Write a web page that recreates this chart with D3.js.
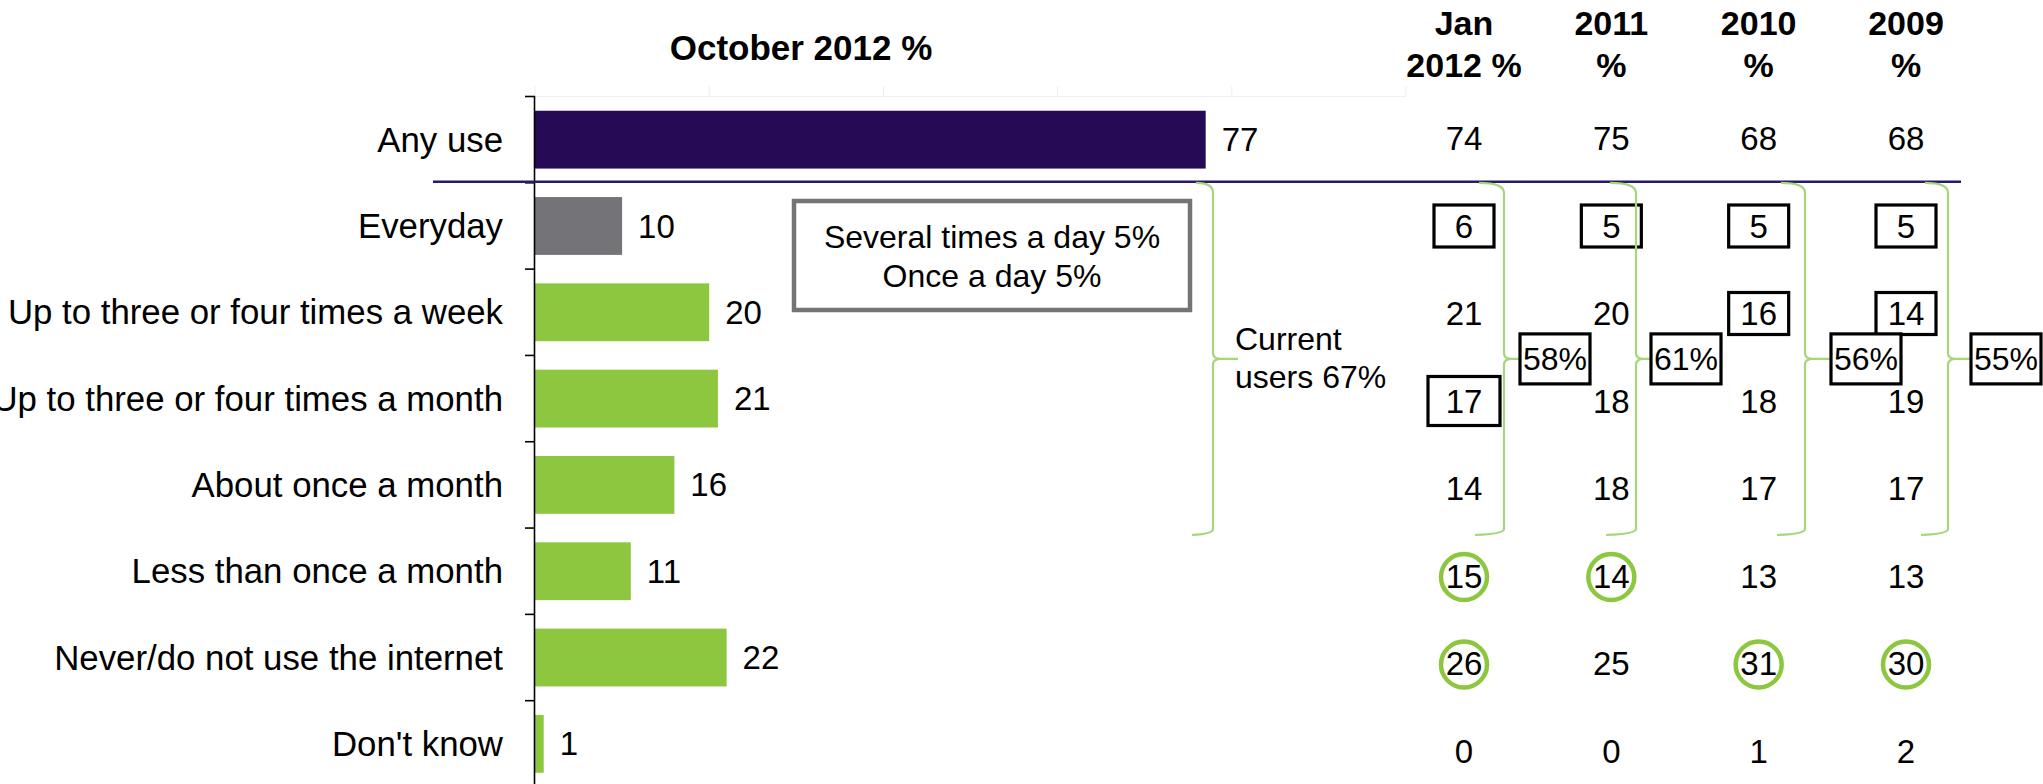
<!DOCTYPE html>
<html>
<head>
<meta charset="utf-8">
<script src="https://cdn.jsdelivr.net/npm/d3@7"></script>
<style>
  html, body { margin: 0; padding: 0; background: #ffffff; }
  svg { display: block; font-family: "Liberation Sans", Arial, sans-serif; }
</style>
</head>
<body>
<svg id="chart" width="2043" height="784"></svg>
<script>
// ---- data ----
const categories = [
  "Any use",
  "Everyday",
  "Up to three or four times a week",
  "Up to three or four times a month",
  "About once a month",
  "Less than once a month",
  "Never/do not use the internet",
  "Don't know"
];
const october2012 = [77, 10, 20, 21, 16, 11, 22, 1];

const jan2012 = [74, 6, 21, 17, 14, 15, 26, 0];
const year2011 = [75, 5, 20, 18, 18, 14, 25, 0];
const year2010 = [68, 5, 16, 18, 17, 13, 31, 1];
const year2009 = [68, 5, 14, 19, 17, 13, 30, 2];
const earlierWaves = [jan2012, year2011, year2010, year2009];
const waveHeaders = [["Jan", "2012 %"], ["2011", "%"], ["2010", "%"], ["2009", "%"]];

const chartTitle = "October 2012 %";
const dailyBreakdown = ["Several times a day 5%", "Once a day 5%"];
const currentUsersOctober = 67;
const currentUsersWaves = [58, 61, 56, 55];

// highlighted cells: [wave index, category]
const boxedCells = [
  [0, "Everyday"], [0, "Up to three or four times a month"],
  [1, "Everyday"],
  [2, "Everyday"], [2, "Up to three or four times a week"],
  [3, "Everyday"], [3, "Up to three or four times a week"]
];
const circledCells = [
  [0, "Less than once a month"], [0, "Never/do not use the internet"],
  [1, "Less than once a month"],
  [2, "Never/do not use the internet"],
  [3, "Never/do not use the internet"]
];

// ---- layout / style ----
const PURPLE = "#260a56";
const GREY = "#737378";
const GREEN = "#8dc63f";
const BRACE_GREEN = "#a6d67a";
const LABEL_FONT = 34.8;
const VALUE_FONT = 33;

const svg = d3.select("#chart");

const x = d3.scaleLinear().domain([0, 100]).range([535, 1406]);
const y = d3.scaleBand().domain(categories).range([96.5, 787])
  .paddingInner(0.33).paddingOuter(0.165);
const step = y.step();
const rowTop = c => y(c) - step * 0.165;

// table of earlier waves
const col = d3.scalePoint().domain(d3.range(waveHeaders.length)).range([1464, 1906]);
const rowT = d3.scalePoint().domain(categories).range([138.5, 751]);

// faint gridlines at the top of the plot area
const grid = svg.append("g");
grid.selectAll("line.v").data(x.ticks(5)).join("line")
  .attr("x1", d => x(d)).attr("x2", d => x(d))
  .attr("y1", 86).attr("y2", 96.5)
  .attr("stroke", "#eeeeee").attr("stroke-width", 1);
grid.append("line")
  .attr("x1", x(0)).attr("x2", x(100)).attr("y1", 96.5).attr("y2", 96.5)
  .attr("stroke", "#f0f0f0").attr("stroke-width", 1);

// title
svg.append("text")
  .attr("x", 801).attr("y", 60)
  .attr("text-anchor", "middle")
  .attr("font-size", 35).attr("font-weight", "bold")
  .text(chartTitle);

// bars
const barColor = i => i === 0 ? PURPLE : (i === 1 ? GREY : GREEN);
svg.append("g").selectAll("rect").data(categories).join("rect")
  .attr("x", x(0))
  .attr("y", d => y(d))
  .attr("width", (d, i) => x(october2012[i]) - x(0))
  .attr("height", y.bandwidth())
  .attr("fill", (d, i) => barColor(i));

// bar value labels
svg.append("g").selectAll("text").data(categories).join("text")
  .attr("x", (d, i) => x(october2012[i]) + 16)
  .attr("y", d => y(d) + y.bandwidth() / 2)
  .attr("dy", "0.35em")
  .attr("font-size", VALUE_FONT)
  .text((d, i) => october2012[i]);

// category labels
svg.append("g").selectAll("text").data(categories).join("text")
  .attr("x", 503)
  .attr("y", d => y(d) + y.bandwidth() / 2)
  .attr("dy", "0.35em")
  .attr("text-anchor", "end")
  .attr("font-size", LABEL_FONT)
  .text(d => d);

// category axis: vertical line and ticks between bands
const axis = svg.append("g");
axis.append("line")
  .attr("x1", x(0) - 0.5).attr("x2", x(0) - 0.5)
  .attr("y1", 96).attr("y2", 784)
  .attr("stroke", "#000").attr("stroke-width", 1.6);
axis.selectAll("line.tick").data(categories).join("line")
  .attr("class", "tick")
  .attr("x1", x(0) - 10).attr("x2", x(0))
  .attr("y1", d => rowTop(d)).attr("y2", d => rowTop(d))
  .attr("stroke", "#000").attr("stroke-width", 1.6);

// divider under "Any use"
svg.append("line")
  .attr("x1", 433).attr("x2", 1961)
  .attr("y1", rowTop(categories[1]) - 1).attr("y2", rowTop(categories[1]) - 1)
  .attr("stroke", "#2b1868").attr("stroke-width", 2.5);

// callout with the daily breakdown
const callout = svg.append("g");
callout.append("rect")
  .attr("x", 794).attr("y", 201).attr("width", 396).attr("height", 109)
  .attr("fill", "#fff").attr("stroke", GREY).attr("stroke-width", 4.5);
callout.selectAll("text").data(dailyBreakdown).join("text")
  .attr("x", 992).attr("y", (d, i) => 248 + i * 39)
  .attr("text-anchor", "middle")
  .attr("font-size", 32)
  .text(d => d);

// curly brace opening to the left with its point to the right
function brace(xStart, xVert, xTip, yTop, yBot) {
  const yMid = (yTop + yBot) / 2;
  const p = d3.path();
  p.moveTo(xStart, yTop);
  p.quadraticCurveTo(xVert, yTop, xVert, yTop + 10);
  p.lineTo(xVert, yMid - 6);
  p.quadraticCurveTo(xVert, yMid, xVert + 8, yMid);
  p.lineTo(xTip, yMid);
  p.moveTo(xVert + 8, yMid);
  p.quadraticCurveTo(xVert, yMid, xVert, yMid + 6);
  p.lineTo(xVert, yBot - 6);
  p.quadraticCurveTo(xVert, yBot - 1, xStart - 4, yBot);
  return p.toString();
}
const braceTop = rowTop(categories[1]);
const braceBottom = 535;
const braceMid = (braceTop + braceBottom) / 2;

svg.append("path")
  .attr("d", brace(1196, 1213, 1238, braceTop, braceBottom))
  .attr("fill", "none").attr("stroke", BRACE_GREEN).attr("stroke-width", 2.2);
svg.append("g").selectAll("text").data(["Current", "users " + currentUsersOctober + "%"]).join("text")
  .attr("x", 1235).attr("y", (d, i) => 350 + i * 38)
  .attr("font-size", 32)
  .text(d => d);

// wave headers
const headers = svg.append("g");
waveHeaders.forEach((lines, i) => {
  headers.append("text")
    .attr("x", col(i)).attr("text-anchor", "middle")
    .attr("font-size", 34).attr("font-weight", "bold")
    .selectAll("tspan").data(lines).join("tspan")
    .attr("x", col(i)).attr("y", (d, j) => 35 + j * 42)
    .text(d => d);
});

// boxes behind highlighted numbers
const boxSize = (w, c) => (w === 0 && c === "Up to three or four times a month") ? [72, 49] : [60, 42];
svg.append("g").selectAll("rect").data(boxedCells).join("rect")
  .attr("x", d => col(d[0]) - boxSize(d[0], d[1])[0] / 2)
  .attr("y", d => rowT(d[1]) - boxSize(d[0], d[1])[1] / 2)
  .attr("width", d => boxSize(d[0], d[1])[0])
  .attr("height", d => boxSize(d[0], d[1])[1])
  .attr("fill", "#fff").attr("stroke", "#000").attr("stroke-width", 3.2);

// braces per wave and their totals
const waveBraces = [[1479, 1504, 1520], [1610, 1636, 1651], [1781, 1805, 1831], [1925, 1948, 1971]];
const braceG = svg.append("g");
waveBraces.forEach((b, i) => {
  braceG.append("path")
    .attr("d", brace(b[0], b[1], b[2], braceTop, braceBottom))
    .attr("fill", "none").attr("stroke", BRACE_GREEN).attr("stroke-width", 2.2);
});

// numbers of the earlier waves
const table = svg.append("g");
earlierWaves.forEach((vals, i) => {
  table.append("g").selectAll("text").data(categories).join("text")
    .attr("x", col(i))
    .attr("y", d => rowT(d))
    .attr("dy", "0.35em")
    .attr("text-anchor", "middle")
    .attr("font-size", VALUE_FONT)
    .text((d, j) => vals[j]);
});

// total boxes at the brace points
const totals = svg.append("g");
currentUsersWaves.forEach((v, i) => {
  const bx = waveBraces[i][2];
  totals.append("rect")
    .attr("x", bx).attr("y", braceMid - 25).attr("width", 70).attr("height", 50)
    .attr("fill", "#fff").attr("stroke", "#000").attr("stroke-width", 3.2);
  totals.append("text")
    .attr("x", bx + 35).attr("y", braceMid).attr("dy", "0.35em")
    .attr("text-anchor", "middle").attr("font-size", 32)
    .text(v + "%");
});

// circled numbers
svg.append("g").selectAll("circle").data(circledCells).join("circle")
  .attr("cx", d => col(d[0]))
  .attr("cy", d => rowT(d[1]) + 1)
  .attr("r", 23)
  .attr("fill", "none").attr("stroke", GREEN).attr("stroke-width", 4.5);
</script>
</body>
</html>
